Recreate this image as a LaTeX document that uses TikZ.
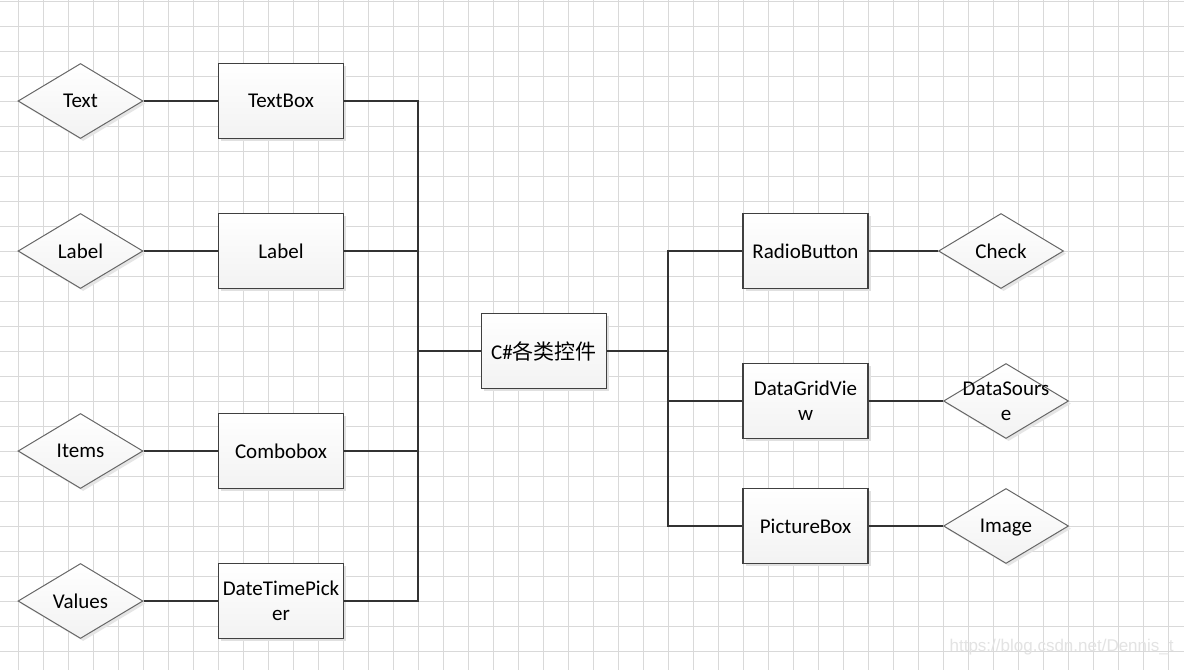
\documentclass[tikz,border=0pt]{standalone}
\usepackage{fontspec}
\setmainfont{Carlito}
\newfontfamily\cjkfont{Noto Sans CJK SC}
\newfontfamily\wmfont{Liberation Sans}
\usetikzlibrary{shapes.geometric,shadows}
\begin{document}
\begin{tikzpicture}[x=0.5pt,y=-0.5pt,
  every node/.style={font=\fontsize{10.5}{12.5}\selectfont},
  ctl/.style={draw=black!75, line width=0.6pt, minimum width=62.5pt, minimum height=37.5pt,
    inner sep=0pt, top color=white, bottom color=black!5, align=center,
    drop shadow={shadow xshift=1.3pt, shadow yshift=-1.3pt, fill=black!12, opacity=1}},
  attr/.style={diamond, draw=black!60, line width=0.5pt, minimum width=62.5pt, minimum height=37.5pt,
    aspect=1.667, inner sep=0pt, top color=white, bottom color=black!5, align=center,
    drop shadow={shadow xshift=1.3pt, shadow yshift=-1.3pt, fill=black!10, opacity=1}},
  link/.style={draw=black!80, line width=0.55pt},
  gridline/.style={draw=black!15, line width=0.5pt}]
\useasboundingbox (0,0) rectangle (1184,670);
\fill[white] (0,0) rectangle (1184,670);
\foreach \x in {18.3,43.3,...,1184} \draw[gridline] (\x,0) -- (\x,670);
\foreach \y in {1,26,...,670} \draw[gridline] (0,\y) -- (1184,\y);

% left attributes
\node[attr] (dtext) at (80.5,101) {Text};
\node[attr] (dlabel) at (80.5,251) {Label};
\node[attr] (ditems) at (80.5,451) {Items};
\node[attr] (dvalues) at (80.5,601) {Values};
% left controls
\node[ctl] (textbox) at (281,101) {TextBox};
\node[ctl] (label) at (281,251) {Label};
\node[ctl] (combo) at (281,451) {Combobox};
\node[ctl] (dtp) at (281,601) {DateTimePick\\er};
% center
\node[ctl] (c) at (544,351) {C\#{\cjkfont 各类控件}};
% right controls
\node[ctl] (radio) at (805.5,251) {RadioButton};
\node[ctl] (dgv) at (805.5,401) {DataGridVie\\w};
\node[ctl] (pic) at (805.5,526) {PictureBox};
% right attributes
\node[attr] (dcheck) at (1001,251) {Check};
\node[attr] (dds) at (1006,401) {};
\node (ddstext) at (dds) [align=center] {DataSours\\e};
\node[attr, text depth=0pt] (dimg) at (1006,526) {Image};

% buses
\coordinate (busL) at (418,351);
\coordinate (busR) at (668,351);
\draw[link] (textbox.east) -| (busL);
\draw[link] (label.east) -| (busL);
\draw[link] (combo.east) -| (busL);
\draw[link] (dtp.east) -| (busL);
\draw[link] (busL) -- (c.west);
\draw[link] (c.east) -- (busR);
\draw[link] (busR) |- (radio.west);
\draw[link] (busR) |- (dgv.west);
\draw[link] (busR) |- (pic.west);
% attribute links
\draw[link] (dtext.east) -- (textbox.west);
\draw[link] (dlabel.east) -- (label.west);
\draw[link] (ditems.east) -- (combo.west);
\draw[link] (dvalues.east) -- (dtp.west);
\draw[link] (radio.east) -- (dcheck.west);
\draw[link] (dgv.east) -- (dds.west);
\draw[link] (pic.east) -- (dimg.west);

% watermark
\node[font=\wmfont\fontsize{8.5}{10}\selectfont, text=black!11, anchor=base east, inner sep=0pt] (wm) at (1174,651) {https://blog.csdn.net/Dennis\_t};
\end{tikzpicture}
\end{document}
